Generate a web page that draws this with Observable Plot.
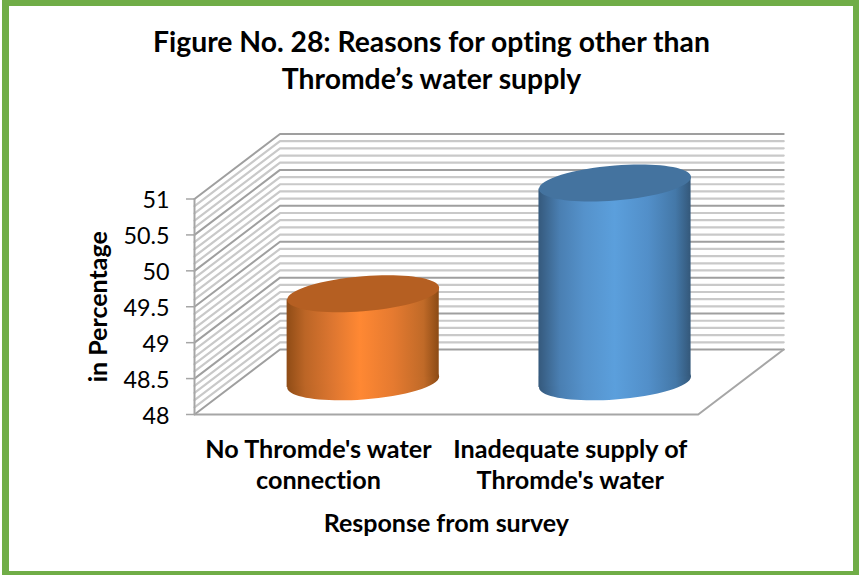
<!DOCTYPE html>
<html>
<head>
<meta charset="utf-8">
<script src="https://cdn.jsdelivr.net/npm/d3@7"></script>
<script src="https://cdn.jsdelivr.net/npm/@observablehq/plot@0.6"></script>
<style>
  html, body { margin: 0; padding: 0; background: #fff; overflow: hidden; }
  #card { position: absolute; left: 2px; top: 0; width: 844px; height: 565px; border-style: solid; border-color: #70ad47; border-width: 6px 6px 4px 7px; background: #fff; }
  #title { position: absolute; left: 2px; top: 23px; width: 859px; text-align: center; font: bold 28.3px/37px Lato, sans-serif; color: #000; font-variant-ligatures: none; }
  #chart { position: absolute; left: 0; top: 110px; }
  #chart svg { display: block; font-variant-ligatures: none; }
</style>
</head>
<body>
<div id="card"></div>
<div id="title"></div>
<div id="chart"></div>
<script>
const titleLines = ["Figure No. 28: Reasons for opting other than", "Thromde’s water supply"];
const categories = ["No Thromde's water\nconnection", "Inadequate supply of\nThromde's water"];
const values = [49.23, 50.77];
const yTicks = [48, 48.5, 49, 49.5, 50, 50.5, 51];
const minorTicks = [48.1, 48.2, 48.3, 48.4, 48.6, 48.7, 48.8, 48.9, 49.1, 49.2, 49.3, 49.4, 49.6, 49.7, 49.8, 49.9, 50.1, 50.2, 50.3, 50.4, 50.6, 50.7, 50.8, 50.9];
const xLabel = "Response from survey";
const yLabel = "in Percentage";
const gradIds = ["gradOrange", "gradBlue"];
const topColors = ["#b55f22", "#44739f"];
const gradStops = [
  [["0", "#8f4c16"], ["0.12", "#bb6526"], ["0.3", "#dd7630"], ["0.48", "#ff8833"], ["0.7", "#e57a30"], ["0.9", "#c06a28"], ["1", "#8b4a14"]],
  [["0", "#35597c"], ["0.14", "#4a7fb2"], ["0.3", "#5592cb"], ["0.5", "#5b9fdc"], ["0.72", "#528fc9"], ["0.9", "#4478a8"], ["1", "#34587a"]]
];

// 3-D chart box expressed in scale units
const xMax = 2;
const yMin = 48;
const depthX = 0.3395;
const depthY = 0.905;
const halfBar = 0.302;
const tiltTop = 0.0835;
const tiltBase = 0.0766;
const tickLen = 0.0318;

document.getElementById("title").innerHTML = titleLines.join("<br>");

function ellipseSymbol(a, b, s) {
  const k = 0.5523;
  const m = (x, y) => [a * x, b * y - s * x];
  return {
    draw(ctx) {
      ctx.moveTo(...m(1, 0));
      ctx.bezierCurveTo(...m(1, k), ...m(k, 1), ...m(0, 1));
      ctx.bezierCurveTo(...m(-k, 1), ...m(-1, k), ...m(-1, 0));
      ctx.bezierCurveTo(...m(-1, -k), ...m(-k, -1), ...m(0, -1));
      ctx.bezierCurveTo(...m(k, -1), ...m(1, -k), ...m(1, 0));
      ctx.closePath();
    }
  };
}

function wall(levels, stroke, strokeWidth) {
  const pts = levels.flatMap(v => [
    {v, x: 0, y: v},
    {v, x: depthX, y: v + depthY},
    {v, x: xMax + depthX, y: v + depthY}
  ]);
  return Plot.line(pts, {x: "x", y: "y", z: "v", stroke, strokeWidth});
}

function defs() {
  const d = d3.create("svg:defs");
  gradIds.forEach((id, i) => {
    const g = d.append("linearGradient").attr("id", id).attr("x1", 0).attr("x2", 1).attr("y1", 0).attr("y2", 0);
    gradStops[i].forEach(([o, c]) => g.append("stop").attr("offset", o).attr("stop-color", c));
  });
  return d.node();
}

function cylinder(v, i) {
  const cx = i + 0.5 + depthX / 2;
  const base = yMin + depthY / 2;
  const top = v + depthY / 2;
  const fill = `url(#${gradIds[i]})`;
  return [
    Plot.dot([0], {x: () => cx, y: () => base, r: 1, symbol: ellipseSymbol(76, 17.5, 5.5), fill, stroke: "none"}),
    Plot.areaY([-1, 1], {
      x: d => cx + d * halfBar,
      y1: d => base + d * tiltBase,
      y2: d => top + d * tiltTop,
      fill
    }),
    Plot.dot([0], {x: () => cx, y: () => top, r: 1, symbol: ellipseSymbol(76, 17.5, 6), fill: topColors[i], stroke: "none"})
  ];
}

const font = "Lato, sans-serif";
const plot = Plot.plot({
  width: 859,
  height: 440,
  marginLeft: 194,
  marginRight: 161.3,
  marginTop: 88.5,
  marginBottom: 136,
  style: {fontFamily: font, background: "transparent", overflow: "visible"},
  x: {domain: [0, xMax], axis: null},
  y: {domain: [yMin, 51], axis: null},
  marks: [
    defs,
    wall(minorTicks, "#c9c9c9", 2.2),
    wall(yTicks, "#9f9f9f", 2),
    Plot.line([{x: 0, y: yMin}, {x: xMax, y: yMin}, {x: xMax + depthX, y: yMin + depthY}], {x: "x", y: "y", stroke: "#a6a6a6", strokeWidth: 2}),
    Plot.ruleY(yTicks, {y: d => d, x1: () => -tickLen, x2: () => 0, stroke: "#a6a6a6", strokeWidth: 1.5}),
    Plot.text(yTicks, {y: d => d, x: () => 0, dx: -25, dy: 2, text: d => String(d), textAnchor: "end", fontSize: 23.3, fill: "#000"}),
    Plot.ruleX([0], {y1: yMin, y2: 51, stroke: "#a6a6a6", strokeWidth: 2}),
    values.map(cylinder),
    Plot.text(categories, {x: (d, i) => i + 0.5, y: () => yMin, dx: -2, dy: 21, lineAnchor: "top", lineHeight: 1.25, fontSize: 25.2, fontWeight: "bold", fill: "#000"}),
    Plot.text([xLabel], {frameAnchor: "bottom", dy: 109, lineAnchor: "middle", fontSize: 25, fontWeight: "bold", fill: "#000"}),
    Plot.text([yLabel], {frameAnchor: "left", dx: -96, rotate: -90, textAnchor: "middle", fontSize: 25, fontWeight: "bold", fill: "#000"})
  ]
});
document.getElementById("chart").appendChild(plot);
</script>
</body>
</html>
